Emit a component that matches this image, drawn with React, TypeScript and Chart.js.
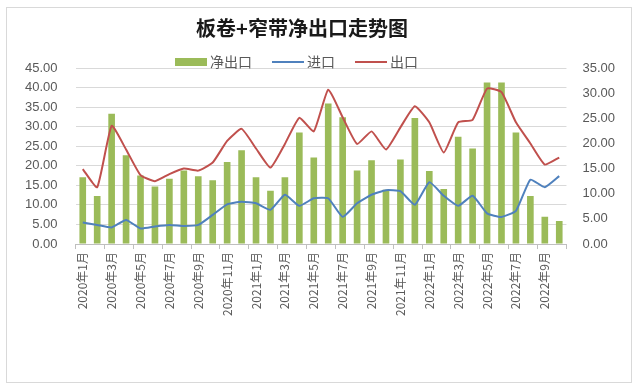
import React, { useEffect, useRef } from "react";
import { Chart, registerables } from "chart.js";

Chart.register(...registerables);

const TITLE = "板卷+窄带净出口走势图";

const MONTHS: string[] = [
  "2020年1月", "2020年2月", "2020年3月", "2020年4月", "2020年5月", "2020年6月",
  "2020年7月", "2020年8月", "2020年9月", "2020年10月", "2020年11月", "2020年12月",
  "2021年1月", "2021年2月", "2021年3月", "2021年4月", "2021年5月", "2021年6月",
  "2021年7月", "2021年8月", "2021年9月", "2021年10月", "2021年11月", "2021年12月",
  "2022年1月", "2022年2月", "2022年3月", "2022年4月", "2022年5月", "2022年6月",
  "2022年7月", "2022年8月", "2022年9月", "2022年10月",
];

const NET_EXPORT: number[] = [
  17.1, 12.3, 33.3, 22.7, 17.5, 14.7, 16.7, 18.8, 17.3, 16.3, 21.0, 24.0,
  17.1, 13.6, 17.1, 28.5, 22.1, 35.9, 32.4, 18.8, 21.4, 13.9, 21.6, 32.2,
  18.7, 14.1, 27.4, 24.4, 41.3, 41.3, 28.5, 12.3, 7.0, 5.9,
];

const IMPORT: number[] = [
  4.3, 3.8, 3.3, 4.8, 3.1, 3.5, 3.8, 3.6, 3.8, 5.8, 7.9, 8.4,
  8.1, 6.8, 9.8, 7.6, 9.1, 9.1, 5.4, 8.1, 9.8, 10.7, 10.5, 7.8,
  12.3, 9.6, 7.6, 9.6, 6.1, 5.4, 6.6, 12.8, 11.3, 13.5,
];

const EXPORT: number[] = [
  14.9, 11.3, 23.5, 18.8, 13.7, 12.5, 13.9, 15.0, 14.6, 16.2, 20.5, 22.9,
  19.0, 15.2, 19.9, 25.1, 22.4, 30.7, 25.2, 19.9, 22.4, 18.8, 23.2, 27.4,
  24.2, 18.2, 24.2, 24.7, 30.9, 30.2, 24.2, 20.0, 15.8, 17.2,
];

const LEFT_TICKS = { min: 0, max: 45, step: 5 };
const RIGHT_TICKS = { min: 0, max: 35, step: 5 };

const FONT = "'Liberation Sans', 'Noto Sans CJK SC', sans-serif";
const CJK = "'Noto Sans CJK SC', sans-serif";

const framePlugin = {
  id: "frame",
  beforeDraw(chart: any) {
    const { ctx } = chart;
    ctx.save();
    ctx.fillStyle = "#ffffff";
    ctx.fillRect(0, 0, chart.width, chart.height);
    ctx.strokeStyle = "#d9d9d9";
    ctx.lineWidth = 1;
    ctx.strokeRect(6.5, 7.5, 625, 375);
    ctx.restore();
  },
  afterDraw(chart: any) {
    const { ctx } = chart;
    ctx.save();
    ctx.fillStyle = "#1a1a1a";
    ctx.font = `bold 20px ${CJK}`;
    ctx.textAlign = "center";
    ctx.textBaseline = "middle";
    ctx.fillText(TITLE, 302, 28);
    ctx.font = `14px ${CJK}`;
    ctx.textAlign = "left";
    let x = 175;
    const y = 62;
    for (const d of chart.data.datasets as any[]) {
      if (d.type === "bar") {
        ctx.fillStyle = d.backgroundColor;
        ctx.fillRect(x, y - 4, 32, 8);
      } else {
        ctx.strokeStyle = d.borderColor;
        ctx.lineWidth = 2;
        ctx.beginPath();
        ctx.moveTo(x, y);
        ctx.lineTo(x + 32, y);
        ctx.stroke();
      }
      ctx.fillStyle = "#595959";
      ctx.fillText(d.label, x + 35, y);
      x += 35 + ctx.measureText(d.label).width + 20;
    }
    ctx.restore();
  },
};

export default function App() {
  const ref = useRef<HTMLCanvasElement | null>(null);

  useEffect(() => {
    if (!ref.current) return;
    const chart = new Chart(ref.current, {
      type: "bar",
      data: {
        labels: MONTHS,
        datasets: [
          {
            type: "bar",
            label: "净出口",
            data: NET_EXPORT,
            backgroundColor: "#9bbb59",
            yAxisID: "y",
            barPercentage: 0.46,
            categoryPercentage: 1,
            order: 3,
          } as any,
          {
            type: "line",
            label: "进口",
            data: IMPORT,
            borderColor: "#4f81bd",
            backgroundColor: "#4f81bd",
            borderWidth: 2,
            pointRadius: 0,
            tension: 0.15,
            yAxisID: "y1",
            order: 1,
          },
          {
            type: "line",
            label: "出口",
            data: EXPORT,
            borderColor: "#c0504d",
            backgroundColor: "#c0504d",
            borderWidth: 2,
            pointRadius: 0,
            tension: 0.15,
            yAxisID: "y1",
            order: 2,
          },
        ],
      },
      plugins: [framePlugin],
      options: {
        animation: false,
        responsive: false,
        maintainAspectRatio: false,
        layout: { padding: { left: 7, right: 8, top: 68, bottom: 68 } },
        plugins: {
          legend: { display: false },
          title: { display: false },
          tooltip: { enabled: false },
        },
        scales: {
          x: {
            offset: true,
            grid: {
              display: true,
              offset: true,
              drawOnChartArea: false,
              drawTicks: true,
              tickLength: 5,
              color: (c: any) =>
                c.index === undefined || c.index % 2 === 0 ? "#bfbfbf" : "rgba(0,0,0,0)",
            },
            border: { display: true, color: "#bfbfbf" },
            ticks: {
              autoSkip: false,
              maxRotation: 90,
              minRotation: 90,
              padding: 3,
              color: "#595959",
              font: { family: CJK, size: 12 },
              callback: (_v: any, i: number) => (i % 2 === 0 ? MONTHS[i] : ""),
            },
          },
          y: {
            position: "left",
            min: LEFT_TICKS.min,
            max: LEFT_TICKS.max,
            grid: { color: "#d9d9d9", drawTicks: false },
            border: { display: false },
            ticks: {
              stepSize: LEFT_TICKS.step,
              padding: 18,
              color: "#595959",
              font: { family: FONT, size: 13 },
              callback: (v: any) => Number(v).toFixed(2),
            },
          },
          y1: {
            position: "right",
            min: RIGHT_TICKS.min,
            max: RIGHT_TICKS.max,
            grid: { display: false, drawTicks: false },
            border: { display: false },
            ticks: {
              stepSize: RIGHT_TICKS.step,
              padding: 16,
              color: "#595959",
              font: { family: FONT, size: 13 },
              callback: (v: any) => Number(v).toFixed(2),
            },
          },
        },
      },
    });
    return () => chart.destroy();
  }, []);

  return (
    <div style={{ position: "fixed", left: 0, top: 0, width: 639, height: 387 }}>
      <canvas ref={ref} width={639} height={387} style={{ display: "block" }} />
    </div>
  );
}
